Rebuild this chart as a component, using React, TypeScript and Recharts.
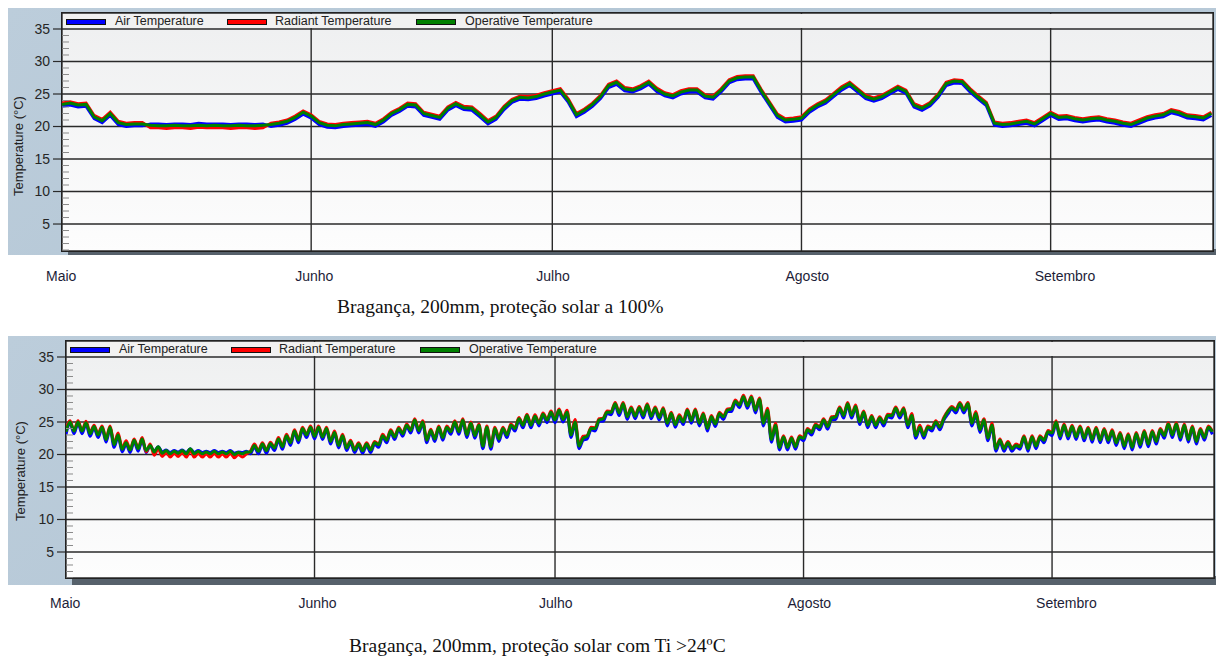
import { LineChart, Line, XAxis, YAxis, CartesianGrid } from "recharts";

const MONTH_TICKS = [0, 31, 61, 92, 123];
const MONTH_LABELS = ["Maio", "Junho", "Julho", "Agosto", "Setembro"];
const TEMP_TICKS = [5, 10, 15, 20, 25, 30, 35];
const MINOR_TICKS = [
  1, 2, 3, 4, 6, 7, 8, 9, 11, 12, 13, 14, 16, 17, 18, 19, 21, 22, 23, 24, 26, 27, 28, 29, 31, 32, 33, 34,
];
const SERIES = [
  { key: "air", name: "Air Temperature", color: "#0000ff" },
  { key: "rad", name: "Radiant Temperature", color: "#ff0000" },
  { key: "op", name: "Operative Temperature", color: "#008000" },
];

// top chart, one value per day from 1 May (proteção solar a 100%)
const air100 = [
  23.1, 23.3, 23.0, 23.1, 21.2, 20.6, 21.7, 20.3, 20.0, 20.1,
  20.1, 20.4, 20.4, 20.3, 20.4, 20.4, 20.3, 20.5, 20.4, 20.4,
  20.4, 20.3, 20.4, 20.4, 20.3, 20.4, 20.0, 20.2, 20.5, 21.1,
  21.9, 21.3, 20.3, 19.9, 19.8, 20.0, 20.1, 20.2, 20.3, 20.0,
  20.7, 21.7, 22.3, 23.1, 23.0, 21.7, 21.4, 21.1, 22.5, 23.2,
  22.6, 22.5, 21.5, 20.4, 21.1, 22.6, 23.7, 24.2, 24.1, 24.3,
  24.7, 25.0, 25.3, 23.7, 21.5, 22.2, 23.1, 24.3, 26.0, 26.5,
  25.5, 25.3, 25.8, 26.5, 25.4, 24.7, 24.4, 25.0, 25.3, 25.3,
  24.4, 24.2, 25.3, 26.7, 27.2, 27.3, 27.3, 25.2, 23.3, 21.4,
  20.7, 20.8, 21.0, 22.2, 23.0, 23.6, 24.6, 25.6, 26.3, 25.3,
  24.3, 23.9, 24.3, 25.0, 25.7, 25.1, 23.0, 22.5, 23.2, 24.5,
  26.3, 26.7, 26.6, 25.3, 24.2, 23.2, 20.2, 20.0, 20.1, 20.3,
  20.5, 20.1, 20.9, 21.7, 21.1, 21.2, 20.9, 20.7, 20.9, 21.0,
  20.7, 20.5, 20.2, 20.0, 20.5, 21.0, 21.3, 21.5, 22.1, 21.8,
  21.3, 21.2, 21.0, 21.7,
];
const rad100 = [
  23.6, 23.8, 23.5, 23.6, 21.7, 21.1, 22.2, 20.8, 20.5, 20.6,
  20.6, 19.8, 19.8, 19.7, 19.8, 19.8, 19.7, 19.9, 19.8, 19.8,
  19.8, 19.7, 19.8, 19.8, 19.7, 19.8, 20.5, 20.7, 21.0, 21.6,
  22.4, 21.8, 20.8, 20.4, 20.3, 20.5, 20.6, 20.7, 20.8, 20.5,
  21.2, 22.2, 22.8, 23.6, 23.5, 22.2, 21.9, 21.6, 23.0, 23.7,
  23.1, 23.0, 22.0, 20.9, 21.6, 23.1, 24.2, 24.7, 24.6, 24.8,
  25.2, 25.5, 25.8, 24.2, 22.0, 22.7, 23.6, 24.8, 26.5, 27.0,
  26.0, 25.8, 26.3, 27.0, 25.9, 25.2, 24.9, 25.5, 25.8, 25.8,
  24.9, 24.7, 25.8, 27.2, 27.7, 27.8, 27.8, 25.7, 23.8, 21.9,
  21.2, 21.3, 21.5, 22.7, 23.5, 24.1, 25.1, 26.1, 26.8, 25.8,
  24.8, 24.4, 24.8, 25.5, 26.2, 25.6, 23.5, 23.0, 23.7, 25.0,
  26.8, 27.2, 27.1, 25.8, 24.7, 23.7, 20.7, 20.5, 20.6, 20.8,
  21.0, 20.6, 21.4, 22.2, 21.6, 21.7, 21.4, 21.2, 21.4, 21.5,
  21.2, 21.0, 20.7, 20.5, 21.0, 21.5, 21.8, 22.0, 22.6, 22.3,
  21.8, 21.7, 21.5, 22.2,
];
const op100 = [
  23.4, 23.6, 23.3, 23.4, 21.5, 20.9, 22.0, 20.6, 20.3, 20.4,
  20.4, 20.2, 20.1, 20.1, 20.2, 20.1, 20.1, 20.2, 20.1, 20.2,
  20.1, 20.1, 20.2, 20.1, 20.1, 20.2, 20.3, 20.5, 20.8, 21.4,
  22.2, 21.6, 20.6, 20.2, 20.1, 20.3, 20.4, 20.5, 20.6, 20.3,
  21.0, 22.0, 22.6, 23.4, 23.3, 22.0, 21.7, 21.4, 22.8, 23.5,
  22.9, 22.8, 21.8, 20.7, 21.4, 22.9, 24.0, 24.5, 24.4, 24.6,
  25.0, 25.3, 25.6, 24.0, 21.8, 22.5, 23.4, 24.6, 26.3, 26.8,
  25.8, 25.6, 26.1, 26.8, 25.7, 25.0, 24.7, 25.3, 25.6, 25.6,
  24.7, 24.5, 25.6, 27.0, 27.5, 27.6, 27.6, 25.5, 23.6, 21.7,
  21.0, 21.1, 21.3, 22.5, 23.3, 23.9, 24.9, 25.9, 26.6, 25.6,
  24.6, 24.2, 24.6, 25.3, 26.0, 25.4, 23.3, 22.8, 23.5, 24.8,
  26.6, 27.0, 26.9, 25.6, 24.5, 23.5, 20.5, 20.3, 20.4, 20.6,
  20.8, 20.4, 21.2, 22.0, 21.4, 21.5, 21.2, 21.0, 21.2, 21.3,
  21.0, 20.8, 20.5, 20.3, 20.8, 21.3, 21.6, 21.8, 22.4, 22.1,
  21.6, 21.5, 21.3, 22.0,
];

// bottom chart, daily low / high from 1 May (proteção solar com Ti >24ºC)
const airTiLo = [
  23.1, 23.2, 23.2, 22.8, 22.6, 21.9, 21.1, 20.4, 20.3, 20.5,
  20.3, 20.5, 20.4, 20.3, 20.4, 20.3, 20.3, 20.3, 20.3, 20.3,
  20.3, 20.2, 20.3, 20.1, 20.1, 20.2, 20.6, 20.8, 21.4, 21.8,
  22.6, 22.4, 22.3, 21.6, 21.0, 20.6, 20.3, 20.2, 20.3, 21.1,
  21.8, 22.3, 22.8, 23.3, 23.3, 21.8, 22.0, 22.2, 23.1, 23.1,
  22.6, 22.5, 20.9, 20.8, 22.0, 22.6, 23.6, 24.1, 24.1, 24.4,
  24.9, 24.9, 25.0, 22.6, 20.9, 22.4, 23.6, 25.1, 26.1, 26.0,
  25.4, 25.5, 25.6, 25.5, 25.3, 24.4, 24.2, 24.6, 24.8, 24.4,
  23.6, 24.3, 25.4, 26.6, 27.2, 27.1, 26.4, 24.4, 21.9, 20.7,
  20.7, 20.8, 22.1, 23.0, 23.8, 23.9, 25.4, 25.6, 25.6, 24.6,
  24.1, 24.1, 24.4, 25.6, 25.6, 24.1, 22.5, 22.5, 23.6, 23.8,
  26.2, 26.4, 26.4, 24.4, 23.4, 22.1, 20.5, 20.5, 20.5, 20.8,
  20.5, 20.9, 21.8, 22.9, 22.4, 22.4, 22.3, 22.1, 21.9, 21.8,
  21.8, 21.4, 20.9, 20.7, 21.1, 21.2, 21.6, 22.5, 22.6, 22.2,
  21.9, 21.6, 22.2, 23.1,
];
const airTiHi = [
  24.8, 24.8, 24.7, 24.1, 24.0, 24.0, 22.8, 21.6, 22.0, 22.2,
  21.3, 21.2, 20.7, 20.6, 20.7, 20.9, 20.6, 20.5, 20.6, 20.5,
  20.6, 20.4, 20.5, 21.2, 21.4, 21.5, 22.2, 22.7, 23.4, 23.8,
  24.0, 24.0, 23.8, 23.2, 22.7, 21.8, 21.4, 21.4, 21.6, 22.7,
  23.4, 23.8, 24.3, 25.1, 24.8, 23.5, 24.0, 24.0, 24.8, 25.1,
  24.6, 24.3, 24.0, 23.8, 23.8, 24.3, 25.3, 25.8, 25.7, 26.0,
  26.3, 26.6, 26.3, 24.7, 22.2, 23.8, 25.1, 26.3, 27.6, 27.6,
  26.9, 27.0, 27.4, 26.9, 26.8, 26.1, 25.7, 26.6, 26.6, 26.0,
  25.6, 26.1, 26.6, 28.0, 28.7, 28.6, 28.3, 26.5, 24.2, 22.5,
  22.3, 22.5, 23.6, 24.3, 25.1, 25.4, 26.9, 27.6, 27.2, 26.3,
  25.6, 25.4, 25.8, 26.9, 26.8, 25.8, 24.0, 24.0, 24.8, 25.3,
  27.0, 27.6, 27.6, 26.1, 25.1, 24.3, 22.0, 21.6, 21.2, 22.5,
  22.5, 22.5, 23.3, 24.8, 24.3, 24.1, 24.0, 23.8, 23.8, 23.6,
  23.4, 23.0, 22.8, 23.0, 23.3, 23.3, 23.6, 24.5, 24.5, 24.3,
  24.0, 23.6, 24.0, 24.0,
];
const radTiLo = [
  23.6, 23.7, 23.7, 23.4, 23.2, 22.5, 21.7, 21.0, 20.8, 21.0,
  20.4, 19.9, 19.7, 19.6, 19.7, 19.6, 19.6, 19.6, 19.6, 19.6,
  19.6, 19.5, 19.6, 20.5, 20.6, 20.7, 21.1, 21.3, 21.9, 22.3,
  23.1, 22.9, 22.8, 22.1, 21.5, 21.1, 20.8, 20.7, 20.8, 21.6,
  22.3, 22.8, 23.3, 23.8, 23.8, 22.3, 22.5, 22.7, 23.6, 23.6,
  23.1, 23.0, 21.4, 21.3, 22.5, 23.1, 24.1, 24.6, 24.6, 24.9,
  25.4, 25.4, 25.5, 23.2, 21.5, 22.9, 24.1, 25.6, 26.6, 26.5,
  25.9, 26.0, 26.1, 26.0, 25.8, 24.9, 24.7, 25.1, 25.3, 24.9,
  24.1, 24.8, 25.9, 27.1, 27.7, 27.6, 26.9, 25.0, 22.5, 21.2,
  21.2, 21.3, 22.6, 23.5, 24.3, 24.4, 25.9, 26.1, 26.1, 25.1,
  24.6, 24.6, 24.9, 26.1, 26.1, 24.6, 23.0, 23.0, 24.1, 24.3,
  26.7, 26.9, 26.9, 24.9, 23.9, 22.6, 21.0, 21.0, 21.0, 21.3,
  21.0, 21.4, 22.3, 23.4, 22.9, 22.9, 22.8, 22.6, 22.4, 22.3,
  22.3, 21.9, 21.4, 21.2, 21.6, 21.7, 22.1, 23.0, 23.1, 22.7,
  22.4, 22.1, 22.7, 23.6,
];
const radTiHi = [
  25.2, 25.2, 25.1, 24.5, 24.4, 24.4, 23.3, 22.1, 22.4, 22.6,
  21.6, 20.9, 20.3, 20.2, 20.3, 20.6, 20.2, 20.1, 20.2, 20.1,
  20.2, 20.0, 20.1, 21.6, 21.8, 21.9, 22.6, 23.1, 23.8, 24.2,
  24.4, 24.4, 24.2, 23.6, 23.1, 22.2, 21.8, 21.8, 22.0, 23.1,
  23.8, 24.2, 24.7, 25.5, 25.2, 23.9, 24.4, 24.4, 25.2, 25.5,
  25.0, 24.7, 24.4, 24.2, 24.2, 24.7, 25.7, 26.2, 26.1, 26.4,
  26.7, 27.0, 26.8, 25.4, 22.8, 24.2, 25.5, 26.7, 28.0, 28.0,
  27.3, 27.4, 27.8, 27.3, 27.2, 26.5, 26.1, 27.0, 27.0, 26.4,
  26.0, 26.5, 27.0, 28.4, 29.1, 29.0, 28.7, 27.1, 24.8, 22.9,
  22.7, 22.9, 24.0, 24.7, 25.5, 25.8, 27.3, 28.0, 27.6, 26.7,
  26.0, 25.8, 26.2, 27.3, 27.2, 26.3, 24.5, 24.4, 25.2, 25.7,
  27.4, 28.0, 28.0, 26.6, 25.5, 24.8, 22.4, 22.0, 21.6, 22.9,
  22.9, 22.9, 23.7, 25.2, 24.7, 24.5, 24.4, 24.2, 24.2, 24.0,
  23.8, 23.4, 23.2, 23.4, 23.7, 23.7, 24.0, 24.9, 24.9, 24.7,
  24.4, 24.0, 24.4, 24.4,
];
const opTiLo = [
  23.5, 23.6, 23.6, 23.2, 23.0, 22.3, 21.5, 20.8, 20.7, 20.9,
  20.6, 20.4, 20.2, 20.1, 20.2, 20.1, 20.1, 20.1, 20.1, 20.1,
  20.1, 20.0, 20.1, 20.4, 20.5, 20.6, 21.0, 21.2, 21.8, 22.2,
  23.0, 22.8, 22.7, 22.0, 21.4, 21.0, 20.7, 20.6, 20.7, 21.5,
  22.2, 22.7, 23.2, 23.7, 23.7, 22.2, 22.4, 22.6, 23.5, 23.5,
  23.0, 22.9, 21.3, 21.2, 22.4, 23.0, 24.0, 24.5, 24.5, 24.8,
  25.3, 25.3, 25.4, 23.0, 21.3, 22.8, 24.0, 25.5, 26.5, 26.4,
  25.8, 25.9, 26.0, 25.9, 25.7, 24.8, 24.6, 25.0, 25.2, 24.8,
  24.0, 24.7, 25.8, 27.0, 27.6, 27.5, 26.8, 24.8, 22.3, 21.1,
  21.1, 21.2, 22.5, 23.4, 24.2, 24.3, 25.8, 26.0, 26.0, 25.0,
  24.5, 24.5, 24.8, 26.0, 26.0, 24.5, 22.9, 22.9, 24.0, 24.2,
  26.6, 26.8, 26.8, 24.8, 23.8, 22.5, 20.9, 20.9, 20.9, 21.2,
  20.9, 21.3, 22.2, 23.3, 22.8, 22.8, 22.7, 22.5, 22.3, 22.2,
  22.2, 21.8, 21.3, 21.1, 21.5, 21.6, 22.0, 22.9, 23.0, 22.6,
  22.3, 22.0, 22.6, 23.5,
];
const opTiHi = [
  25.0, 25.0, 24.9, 24.3, 24.2, 24.2, 23.0, 21.8, 22.2, 22.4,
  21.4, 21.2, 20.6, 20.5, 20.6, 20.9, 20.5, 20.4, 20.5, 20.4,
  20.5, 20.3, 20.4, 21.4, 21.6, 21.7, 22.4, 22.9, 23.6, 24.0,
  24.2, 24.2, 24.0, 23.4, 22.9, 22.0, 21.6, 21.6, 21.8, 22.9,
  23.6, 24.0, 24.5, 25.3, 25.0, 23.7, 24.2, 24.2, 25.0, 25.3,
  24.8, 24.5, 24.2, 24.0, 24.0, 24.5, 25.5, 26.0, 25.9, 26.2,
  26.5, 26.8, 26.5, 25.0, 22.5, 24.0, 25.3, 26.5, 27.8, 27.8,
  27.1, 27.2, 27.6, 27.1, 27.0, 26.3, 25.9, 26.8, 26.8, 26.2,
  25.8, 26.3, 26.8, 28.2, 28.9, 28.8, 28.5, 26.8, 24.5, 22.7,
  22.5, 22.7, 23.8, 24.5, 25.3, 25.6, 27.1, 27.8, 27.4, 26.5,
  25.8, 25.6, 26.0, 27.1, 27.0, 26.0, 24.2, 24.2, 25.0, 25.5,
  27.2, 27.8, 27.8, 26.3, 25.3, 24.5, 22.2, 21.8, 21.4, 22.7,
  22.7, 22.7, 23.5, 25.0, 24.5, 24.3, 24.2, 24.0, 24.0, 23.8,
  23.6, 23.2, 23.0, 23.2, 23.5, 23.5, 23.8, 24.7, 24.7, 24.5,
  24.2, 23.8, 24.2, 24.2,
];

const LAST_DAY = 143.2;

const data100 = op100.map((v, i) => ({ day: i, air: air100[i], rad: rad100[i], op: v }));

const dataTi: Array<{ day: number; air: number; rad: number; op: number }> = [];
opTiLo.forEach((v, i) => {
  dataTi.push({ day: i, air: airTiLo[i], rad: radTiLo[i], op: v });
  if (i + 0.5 <= LAST_DAY) {
    dataTi.push({ day: i + 0.5, air: airTiHi[i], rad: radTiHi[i], op: opTiHi[i] });
  }
});

const SANS = '"Liberation Sans", Arial, sans-serif';
const SERIF = '"Liberation Serif", "Times New Roman", serif';

function MonthTick({ x, y, payload }: any) {
  const label = MONTH_LABELS[MONTH_TICKS.indexOf(payload.value)];
  return (
    <text x={x - 16} y={y + 30} textAnchor="start" fontSize={14} fill="#1d1d38" fontFamily={SANS}>
      {label}
    </text>
  );
}

interface PanelProps {
  id: string;
  data: Array<{ day: number; air: number; rad: number; op: number }>;
  curve: "linear" | "monotone";
  frameTop: number;
  frameBottom: number;
  plotLeft: number;
  plotTop: number;
  plotRight: number;
  plotBottom: number;
  yDomain: [number, number];
  labelX: number;
  labelY: number;
  caption: string;
  captionLeft: number;
  captionBaseline: number;
}

function Panel(p: PanelProps) {
  const chartTop = p.frameTop;
  const chartHeight = 292;
  const xAxisHeight = 30;
  const plotW = p.plotRight - p.plotLeft;
  const plotH = p.plotBottom - p.plotTop;

  return (
    <>
      {/* bluish frame */}
      <div
        style={{
          position: "absolute",
          left: 8,
          top: p.frameTop,
          width: 1208,
          height: p.frameBottom - p.frameTop,
          background: "linear-gradient(135deg, #bccddb 0%, #b2c5d4 50%, #bacbd9 100%)",
        }}
      />
      {/* shadow under plot */}
      <div
        style={{
          position: "absolute",
          left: p.plotLeft + 6,
          top: p.plotBottom - 2,
          width: 1216 - p.plotLeft - 6,
          height: p.frameBottom - p.plotBottom + 2,
          background: "#56616b",
        }}
      />
      <div style={{ position: "absolute", left: 0, top: chartTop }}>
        <LineChart
          width={1219}
          height={chartHeight}
          data={p.data}
          margin={{
            top: p.plotTop - chartTop,
            right: 1219 - p.plotRight,
            bottom: chartTop + chartHeight - p.plotBottom - xAxisHeight,
            left: 0,
          }}
        >
          <defs>
            <linearGradient id={`bg-${p.id}`} x1="0" y1="0" x2="0" y2="1">
              <stop offset="0%" stopColor="#eeeff0" />
              <stop offset="100%" stopColor="#fdfdfd" />
            </linearGradient>
          </defs>
          <CartesianGrid stroke="#2a2a2a" strokeWidth={1.4} fill={`url(#bg-${p.id})`} fillOpacity={1} />
          <XAxis
            dataKey="day"
            type="number"
            domain={[0, LAST_DAY]}
            allowDataOverflow
            ticks={MONTH_TICKS}
            interval={0}
            height={xAxisHeight}
            axisLine={false}
            tickLine={false}
            tickSize={0}
            tickMargin={0}
            tick={<MonthTick />}
          />
          <YAxis
            type="number"
            domain={p.yDomain}
            allowDataOverflow
            ticks={TEMP_TICKS}
            interval={0}
            width={p.plotLeft}
            axisLine={false}
            tickLine={{ stroke: "#2a2a2a", strokeWidth: 1.2 }}
            tickSize={9}
            tickMargin={3}
            tick={{ fontSize: 14, fill: "#262626", fontFamily: SANS }}
          />
          <YAxis
            yAxisId="minor"
            type="number"
            domain={p.yDomain}
            allowDataOverflow
            ticks={MINOR_TICKS}
            interval={0}
            mirror
            axisLine={false}
            tickLine={{ stroke: "#8a8a8a", strokeWidth: 1 }}
            tickSize={7}
            tickFormatter={() => ""}
          />
          {SERIES.map((s) => (
            <Line
              key={s.key}
              type={p.curve}
              dataKey={s.key}
              name={s.name}
              stroke={s.color}
              strokeWidth={3}
              dot={false}
              isAnimationActive={false}
            />
          ))}
        </LineChart>
      </div>
      {/* plot border */}
      <div
        style={{
          position: "absolute",
          left: p.plotLeft - 1,
          top: p.plotTop - 1,
          width: plotW,
          height: plotH,
          border: "1.5px solid #222",
          pointerEvents: "none",
        }}
      />
      {/* legend band */}
      <div
        style={{
          position: "absolute",
          left: p.plotLeft + 1,
          top: p.plotTop + 1,
          width: plotW - 2,
          height: 14,
          background: "#f1f1f1",
          fontFamily: SANS,
          fontSize: 12.5,
          color: "#222",
        }}
      >
        {SERIES.map((s, i) => {
          const swatchX = [3, 164, 353][i];
          const textX = [52, 212, 402][i];
          return (
            <div key={s.key}>
              <div
                style={{
                  position: "absolute",
                  left: swatchX,
                  top: 5,
                  width: 38,
                  height: 4,
                  background: s.color,
                  border: "1px solid #111",
                }}
              />
              <div style={{ position: "absolute", left: textX, top: 0, lineHeight: "14px", whiteSpace: "nowrap" }}>
                {s.name}
              </div>
            </div>
          );
        })}
      </div>
      {/* y label */}
      <div
        style={{
          position: "absolute",
          left: p.labelX,
          top: p.labelY,
          transform: "translate(-50%, -50%) rotate(-90deg)",
          fontFamily: SANS,
          fontSize: 13,
          color: "#222",
          whiteSpace: "nowrap",
        }}
      >
        Temperature (°C)
      </div>
      {/* caption */}
      <div
        style={{
          position: "absolute",
          left: p.captionLeft,
          top: p.captionBaseline - 16,
          fontFamily: SERIF,
          fontSize: 19.5,
          lineHeight: "20px",
          color: "#111",
          whiteSpace: "nowrap",
        }}
      >
        {p.caption}
      </div>
    </>
  );
}

export default function App() {
  return (
    <div style={{ position: "absolute", left: 0, top: 0, width: 1219, height: 660, background: "#fff", overflow: "hidden" }}>
      <Panel
        id="a"
        data={data100}
        curve="linear"
        frameTop={8}
        frameBottom={255}
        plotLeft={62}
        plotTop={13}
        plotRight={1213}
        plotBottom={251}
        yDomain={[0.85, 37.46]}
        labelX={18}
        labelY={146}
        caption="Bragança, 200mm, proteção solar a 100%"
        captionLeft={337}
        captionBaseline={313}
      />
      <Panel
        id="b"
        data={dataTi}
        curve="monotone"
        frameTop={336}
        frameBottom={585}
        plotLeft={66}
        plotTop={341}
        plotRight={1214}
        plotBottom={578}
        yDomain={[1.0, 37.46]}
        labelX={20}
        labelY={471}
        caption="Bragança, 200mm, proteção solar com Ti >24ºC"
        captionLeft={349}
        captionBaseline={652}
      />
    </div>
  );
}
